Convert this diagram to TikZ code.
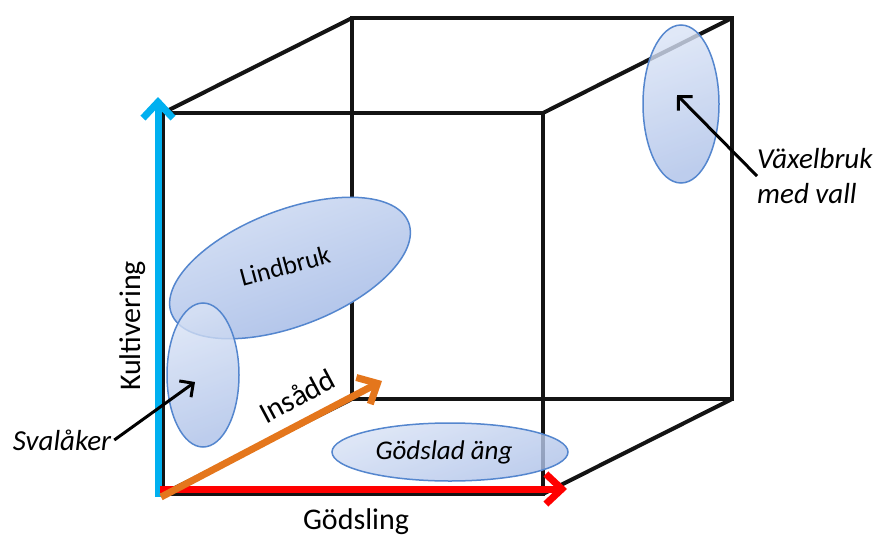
\documentclass[tikz,border=0pt]{standalone}
\usepackage{fontspec}
\setmainfont{Carlito}
\usetikzlibrary{arrows.meta,shapes.geometric}

\definecolor{kultcyan}{RGB}{0,176,240}
\definecolor{godsred}{RGB}{255,0,0}
\definecolor{insorange}{RGB}{228,118,28}
\definecolor{zoneline}{RGB}{84,134,206}
\definecolor{zonelight}{RGB}{216,226,245}
\definecolor{zonedark}{RGB}{172,192,232}

\tikzset{
  cubeedge/.style={line width=4pt, black!92},
  axisarrow/.style={line width=7pt, -{Straight Barb[length=16pt,width=30pt]}},
  pointer/.style={line width=3pt, -{Straight Barb[length=10pt,width=20pt]}},
  zone/.style={ellipse, draw=zoneline, line width=1.5pt, inner sep=0pt,
    top color=zonelight, bottom color=zonedark, shading angle=20,
    fill opacity=0.8, text opacity=1},
  axistext/.style={inner sep=0pt, font=\fontsize{30}{35}\selectfont},
  zonetext/.style={inner sep=0pt, font=\fontsize{29}{35}\selectfont\itshape},
}

\begin{document}
\begin{tikzpicture}[x=1pt, y=-1pt]
\useasboundingbox (0,0) rectangle (875,535);

% Cube corners, front face then back face
\coordinate (f1) at (163,113);
\coordinate (f2) at (543,113);
\coordinate (f3) at (543,494);
\coordinate (f4) at (163,494);
\coordinate (b1) at (352,18);
\coordinate (b2) at (732,18);
\coordinate (b3) at (732,399);
\coordinate (b4) at (352,399);

% Draw the cube
\draw[cubeedge] (f1) -- (f2) -- (f3) -- (f4) -- cycle;
\draw[cubeedge] (b1) -- (b2) -- (b3) -- (b4) -- cycle;
\draw[cubeedge] (f1) -- (b1);
\draw[cubeedge] (f2) -- (b2);
\draw[cubeedge] (f3) -- (b3);
\draw[cubeedge] (f4) -- (b4);

% Farming systems
\node[zone, minimum width=76pt, minimum height=158pt] (vaxel-zone) at (681,104) {};
\node[zone, minimum width=254pt, minimum height=116pt, rotate=21, fill opacity=1] (lind-zone) at (290,268) {};
\node[inner sep=0pt, font=\fontsize{26}{30}\selectfont, rotate=15] (lindbruk) at (285,266) {Lindbruk};
\node[zone, minimum width=72pt, minimum height=144pt] (sval-zone) at (203,375) {};
\node[zone, minimum width=236pt, minimum height=58pt, font=\fontsize{27}{32}\selectfont\itshape] (gods-zone) at (450,452) {Gödslad äng\hspace*{12pt}};

% Axes
\coordinate (kult-start) at (158,497);
\coordinate (kult-tip) at (158,97);
\coordinate (gods-start) at (160,489);
\coordinate (gods-tip) at (567,489);
\coordinate (ins-start) at (161,497);
\coordinate (ins-tip) at (382,381);
\draw[axisarrow, kultcyan] (kult-start) -- (kult-tip);
\draw[axisarrow, godsred] (gods-start) -- (gods-tip);
\draw[axisarrow, insorange] (ins-start) -- (ins-tip);

\node[axistext, rotate=90] (kultivering) at (133,326) {Kultivering};
\node[axistext] (godsling) at (356,522) {Gödsling};
\node[axistext, rotate=28] (insadd) at (297,396) {Insådd};

% Pointer labels
\coordinate (vaxel-spot) at (677,95);
\coordinate (sval-spot) at (195,382);
\node[zonetext, align=left, anchor=west] (vaxelbruk) at (757,176) {Växelbruk\\med vall};
\node[zonetext] (svalaker) at (62,440) {Svalåker};
\draw[pointer] (vaxelbruk.west) -- (vaxel-spot);
\draw[pointer] ([xshift=3pt]svalaker.east) -- (sval-spot);
\end{tikzpicture}
\end{document}
